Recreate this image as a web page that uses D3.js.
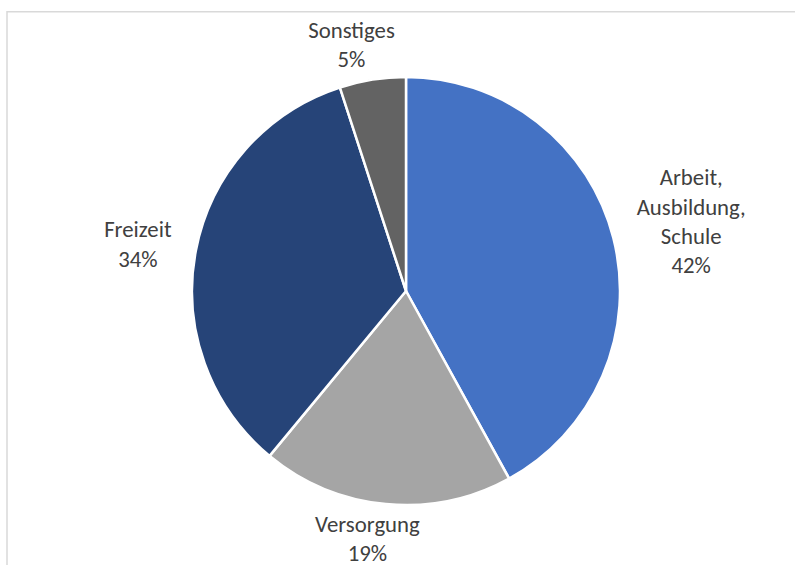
<!DOCTYPE html>
<html>
<head>
<meta charset="utf-8">
<script src="https://cdn.jsdelivr.net/npm/d3@7"></script>
<style>
  body { margin: 0; background: #fff; }
  svg { display: block; }
  .label text { font-family: Carlito, Lato, "Open Sans", sans-serif; font-size: 22.8px; fill: #404040; }
</style>
</head>
<body>
<div id="chart"></div>
<script>
// Pie chart: share per category, clockwise from 12 o'clock
const categories = ['Arbeit,\nAusbildung,\nSchule', 'Versorgung', 'Freizeit', 'Sonstiges'];
const values = [42, 19, 34, 5];
const colors = ['#4472c4', '#a5a5a5', '#264478', '#636363'];

const width = 795, height = 565;
const cx = 406, cy = 291, radius = 214;
const lineHeight = 29.3;

const svg = d3.select('#chart').append('svg')
    .attr('width', width)
    .attr('height', height);

// chart area frame (runs off the right and bottom edge)
svg.append('rect')
    .attr('x', 7).attr('y', 11.75)
    .attr('width', 820).attr('height', 600)
    .attr('fill', 'none')
    .attr('stroke', '#d9d9d9')
    .attr('stroke-width', 1.5);

const data = categories.map((c, i) => ({ name: c, value: values[i], color: colors[i] }));

const pie = d3.pie().sort(null).value(d => d.value);
const arc = d3.arc().innerRadius(0).outerRadius(radius);
const arcs = pie(data);

const g = svg.append('g').attr('transform', `translate(${cx},${cy})`);

g.selectAll('path.slice')
    .data(arcs)
    .enter().append('path')
    .attr('class', 'slice')
    .attr('d', arc)
    .attr('fill', d => d.data.color)
    .attr('stroke', '#fff')
    .attr('stroke-width', 2.5)
    .attr('stroke-linejoin', 'round');

// Labels placed outside the slice along its mid angle
const total = d3.sum(values);
const labels = g.selectAll('g.label')
    .data(arcs)
    .enter().append('g')
    .attr('class', 'label');

labels.each(function(d) {
    const lines = d.data.name.split('\n').concat([Math.round(d.value / total * 100) + '%']);
    const sel = d3.select(this);
    const t = sel.append('text').attr('text-anchor', 'middle');
    lines.forEach((l, i) => {
        t.append('tspan')
            .attr('x', 0)
            .attr('y', (i - (lines.length - 1) / 2) * lineHeight + 7.5)
            .text(l);
    });
    const w = d3.max(t.selectAll('tspan').nodes(), n => n.getComputedTextLength());
    const h = lines.length * lineHeight;
    const a = (d.startAngle + d.endAngle) / 2;
    const sx = Math.sin(a), sy = -Math.cos(a);
    // push the label box out so it clears the rim (box edges nearly snap to the side)
    const x = sx * (radius + 25) + Math.sign(sx) * Math.sqrt(Math.abs(sx)) * w / 2;
    const y = sy * radius + sy * (h / 2 + 5.5);
    sel.attr('transform', `translate(${x},${y})`);
});
</script>
</body>
</html>
